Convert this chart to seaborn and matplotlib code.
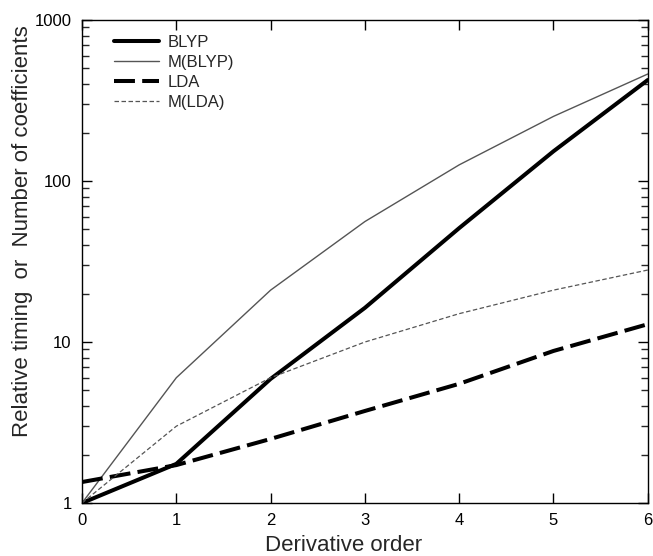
import numpy as np
import pandas as pd
import matplotlib
matplotlib.use("Agg")
import matplotlib.pyplot as plt
from matplotlib.ticker import LogLocator, NullFormatter, FixedLocator
import seaborn as sns

# Derivative order on the x axis
order = [0, 1, 2, 3, 4, 5, 6]

# Relative timings and coefficient counts per functional
blyp = [1.0, 1.75, 5.9, 16.3, 51, 153, 424]
m_blyp = [1, 6, 21, 56, 126, 252, 462]
lda = [1.35, 1.72, 2.5, 3.73, 5.5, 8.8, 12.9]
m_lda = [1, 3, 6, 10, 15, 21, 28]

series_names = ["BLYP", "M(BLYP)", "LDA", "M(LDA)"]

df = pd.DataFrame({
    "order": order * 4,
    "value": blyp + m_blyp + lda + m_lda,
    "series": sum([[n] * len(order) for n in series_names], []),
})

sns.set_theme(style="white")
plt.rcParams["font.family"] = ["Liberation Sans", "DejaVu Sans"]

fig = plt.figure(figsize=(6.53, 5.56), dpi=100)
ax = fig.add_axes([0.1256, 0.0953, 0.8664, 0.8687])

styles = {
    "BLYP": dict(color="black", lw=2.9, ls="-"),
    "M(BLYP)": dict(color="#555555", lw=1.0, ls="-"),
    "LDA": dict(color="black", lw=2.9, ls=(0, (5.2, 1.8))),
    "M(LDA)": dict(color="#555555", lw=0.9, ls=(0, (3.6, 2.0))),
}

for name in series_names:
    sub = df[df["series"] == name]
    st = styles[name]
    sns.lineplot(data=sub, x="order", y="value", ax=ax, label=name,
                 color=st["color"], linewidth=st["lw"], linestyle=st["ls"])

ax.set_yscale("log")
ax.set_xlim(0, 6)
ax.set_ylim(1, 1000)
ax.set_xticks(order)
ax.set_xticklabels([str(v) for v in order])
ax.yaxis.set_major_locator(FixedLocator([1, 10, 100, 1000]))
ax.set_yticklabels(["1", "10", "100", "1000"])
ax.yaxis.set_minor_locator(LogLocator(base=10, subs=np.arange(2, 10)))
ax.yaxis.set_minor_formatter(NullFormatter())

ax.tick_params(axis="both", which="major", direction="in", length=7.5, width=1,
               labelsize=12, top=True, right=True, bottom=True, left=True,
               colors="black", pad=7.5)
ax.tick_params(axis="both", which="minor", direction="in", length=5, width=1,
               top=False, right=True, bottom=False, left=True)
for sp in ax.spines.values():
    sp.set_color("black")
    sp.set_linewidth(1.0)

ax.set_xlabel("Derivative order", fontsize=16)
ax.set_ylabel("Relative timing  or  Number of coefficients", fontsize=16)
ax.xaxis.set_label_coords(0.463, -0.066, transform=ax.transAxes)
ax.yaxis.set_label_coords(-0.087, 0.563, transform=ax.transAxes)
ax.xaxis.label.set_va("top")
ax.yaxis.label.set_va("bottom")

leg = ax.legend(loc="upper left", frameon=False, fontsize=12,
                handlelength=2.7, handletextpad=0.5, labelspacing=0.3,
                bbox_to_anchor=(0.03, 1.0))

fig.savefig("out.png", dpi=100)
